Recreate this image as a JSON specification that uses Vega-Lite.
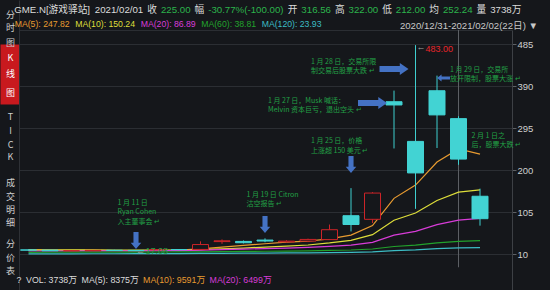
{
  "$schema": "https://vega.github.io/schema/vega-lite/v6.json",
  "width": 493,
  "height": 290,
  "autosize": "none",
  "padding": {"left": 19, "top": 0, "right": 38, "bottom": 0},
  "background": "#15171b",
  "title": {"text": "2020/12/31-2021/02/02(22日) ▼", "anchor": "end", "orient": "top", "frame": "group", "offset": -31, "dx": 26, "color": "#c8c8c8", "fontSize": 9.6, "fontWeight": "normal", "font": "Liberation Sans, Noto Sans CJK SC"},
  "config": {"view": {"stroke": null}, "font": "Liberation Sans, Noto Sans CJK SC"},
  "datasets": {
    "candles": [
      {"date":"2020-12-31","open":19.25,"high":19.80,"low":18.80,"close":18.84,"ma5":19.87,"ma10":18.79,"ma20":16.78,"ma60":13.90,"ma120":10.20},
      {"date":"2021-01-04","open":19.00,"high":19.10,"low":17.15,"close":17.25,"ma5":19.29,"ma10":18.96,"ma20":16.83,"ma60":14.02,"ma120":10.31},
      {"date":"2021-01-05","open":17.35,"high":18.08,"low":17.23,"close":17.37,"ma5":18.57,"ma10":19.14,"ma20":16.86,"ma60":14.13,"ma120":10.41},
      {"date":"2021-01-06","open":17.34,"high":18.98,"low":17.33,"close":18.36,"ma5":18.24,"ma10":19.28,"ma20":16.96,"ma60":14.26,"ma120":10.53},
      {"date":"2021-01-07","open":18.47,"high":19.45,"low":18.02,"close":18.08,"ma5":17.98,"ma10":19.09,"ma20":17.02,"ma60":14.39,"ma120":10.64},
      {"date":"2021-01-08","open":18.18,"high":18.30,"low":17.08,"close":17.69,"ma5":17.75,"ma10":18.81,"ma20":17.22,"ma60":14.46,"ma120":10.75},
      {"date":"2021-01-11","open":19.41,"high":20.65,"low":19.01,"close":19.94,"ma5":18.29,"ma10":18.79,"ma20":17.51,"ma60":14.57,"ma120":10.88},
      {"date":"2021-01-12","open":19.96,"high":20.40,"low":19.32,"close":19.95,"ma5":18.80,"ma10":18.69,"ma20":17.84,"ma60":14.68,"ma120":11.01},
      {"date":"2021-01-13","open":20.42,"high":38.65,"low":20.03,"close":31.40,"ma5":21.41,"ma10":19.83,"ma20":18.77,"ma60":14.97,"ma120":11.23},
      {"date":"2021-01-14","open":38.09,"high":43.06,"low":33.05,"close":39.91,"ma5":25.78,"ma10":21.88,"ma20":20.08,"ma60":15.40,"ma120":11.53},
      {"date":"2021-01-15","open":38.49,"high":40.75,"low":34.01,"close":35.50,"ma5":29.34,"ma10":23.55,"ma20":21.17,"ma60":15.77,"ma120":11.79},
      {"date":"2021-01-19","open":41.55,"high":45.52,"low":36.64,"close":39.36,"ma5":33.22,"ma10":25.76,"ma20":22.36,"ma60":16.20,"ma120":12.07},
      {"date":"2021-01-20","open":37.37,"high":41.19,"low":36.06,"close":39.12,"ma5":37.06,"ma10":27.93,"ma20":23.53,"ma60":16.64,"ma120":12.36},
      {"date":"2021-01-21","open":39.23,"high":44.75,"low":37.00,"close":43.03,"ma5":39.38,"ma10":30.40,"ma20":24.84,"ma60":17.14,"ma120":12.69},
      {"date":"2021-01-22","open":42.59,"high":76.76,"low":42.32,"close":65.01,"ma5":44.40,"ma10":35.09,"ma20":27.09,"ma60":18.02,"ma120":13.19},
      {"date":"2021-01-25","open":96.73,"high":159.18,"low":61.13,"close":76.79,"ma5":52.66,"ma10":41.00,"ma20":29.91,"ma60":19.10,"ma120":13.79},
      {"date":"2021-01-26","open":88.56,"high":150.00,"low":80.20,"close":147.98,"ma5":74.39,"ma10":53.81,"ma20":36.30,"ma60":21.37,"ma120":14.99},
      {"date":"2021-01-27","open":354.83,"high":380.00,"low":249.00,"close":347.51,"ma5":136.06,"ma10":86.56,"ma20":52.62,"ma60":26.97,"ma120":17.85},
      {"date":"2021-01-28","open":265.00,"high":483.00,"low":112.25,"close":193.60,"ma5":166.18,"ma10":102.78,"ma20":61.30,"ma60":30.01,"ma120":19.42},
      {"date":"2021-01-29","open":379.71,"high":413.98,"low":250.00,"close":325.00,"ma5":218.18,"ma10":131.29,"ma20":76.58,"ma60":35.24,"ma120":22.10},
      {"date":"2021-02-01","open":316.56,"high":322.00,"low":212.00,"close":225.00,"ma5":247.82,"ma10":150.24,"ma20":86.89,"ma60":38.81,"ma120":23.93},
      {"date":"2021-02-02","open":140.76,"high":158.00,"low":74.22,"close":90.00,"ma5":236.22,"ma10":155.30,"ma20":90.53,"ma60":40.13,"ma120":24.64}
    ],
    "notesA": [
      {"date":"2021-01-07","level":134.6,"note":"1   月   11   日\nRyan   Cohen\n入主董事会 ↵"},
      {"date":"2021-01-15","level":152.7,"note":"1 月 19 日 Citron\n沽空报告 ↵"},
      {"date":"2021-01-21","level":273.9,"note":"1 月 25 日，价格\n上涨超 150 美元 ↵"},
      {"date":"2021-01-19","level":365.6,"note":"1 月 27 日，Musk 喊话：\nMelvin 资本巨亏，退出空头 ↵"},
      {"date":"2021-01-21","level":453.9,"note":"1 月 28 日，交易所限\n制交易后股票大跌 ↵"}
    ],
    "notesB": [
      {"date":"2021-01-29","level":435.8,"note":"1 月 29 日，交易所\n放开限制，股票大涨 ↵"},
      {"date":"2021-02-01","level":286.3,"note":"2 月 1 日之\n后，股票大跌 ↵"}
    ],
    "arrowsDown": [
      {"date":"2021-01-08","level":21.4},
      {"date":"2021-01-19","level":57.6},
      {"date":"2021-01-25","level":193.5}
    ],
    "arrowsRight": [
      {"date":"2021-01-26","level":352},
      {"date":"2021-01-27","level":429}
    ],
    "arrowsLeft": [
      {"date":"2021-01-29","level":408.6}
    ],
    "info": [
      {"item":"GME.N[游戏驿站]"},{"item":"2021/02/01"},{"item":"收"},{"item":"225.00"},{"item":"幅"},{"item":"-30.77%(-100.00)"},{"item":"开"},{"item":"316.56"},{"item":"高"},{"item":"322.00"},{"item":"低"},{"item":"212.00"},{"item":"均"},{"item":"252.24"},{"item":"量"},{"item":"3738万"}
    ],
    "vol": [
      {"item":"?"},{"item":"VOL: 3738万"},{"item":"MA(5): 8375万"},{"item":"MA(10): 9591万"},{"item":"MA(20): 6499万"}
    ]
  },
  "layer": [
    {
      "data": {"name": "candles"},
      "transform": [{"filter": {"field": "date", "equal": "2021-02-01"}}],
      "mark": {"type": "rule", "color": "#5c5f64", "strokeWidth": 1},
      "encoding": {
        "x": {"field": "date", "type": "ordinal", "axis": null, "scale": {"type": "point", "padding": 0.965, "align": 0.229, "round": false}},
        "y": {"datum": 517.3, "type": "quantitative", "scale": {"domain": [-71.5, 585.2], "nice": false, "zero": false}, "axis": null},
        "y2": {"datum": -20}
      }
    },
    {
      "data": {"name": "candles"},
      "transform": [{"fold": ["ma5", "ma10", "ma20", "ma60", "ma120"], "as": ["ma", "value"]}],
      "mark": {"type": "line", "strokeWidth": 1.2},
      "encoding": {
        "x": {"field": "date", "type": "ordinal", "axis": null, "scale": {"type": "point", "padding": 0.965, "align": 0.229, "round": false}},
        "y": {"field": "value", "type": "quantitative", "scale": {"domain": [-71.5, 585.2], "nice": false, "zero": false},
          "axis": {"orient": "left", "title": null, "domain": true, "domainColor": "#2e3136", "grid": false,
            "values": [553, 522, 490, 456, 419, 417, 376, 321, 290, 259, 230, 173, 141, 111, 81, 33, 2, -27],
            "labelExpr": "datum.value==553?'分':datum.value==522?'时':datum.value==490?'图':datum.value==456?'K':datum.value==419?'线':datum.value==376?'图':datum.value==321?'T':datum.value==290?'I':datum.value==259?'C':datum.value==230?'K':datum.value==173?'成':datum.value==141?'交':datum.value==111?'明':datum.value==81?'细':datum.value==33?'分':datum.value==2?'价':datum.value==-27?'表':''",
            "labelAlign": "center", "labelBaseline": "middle", "labelPadding": -10, "labelFontSize": 9, "labelFont": "Noto Sans CJK SC",
            "labelColor": {"condition": {"test": "datum.value >= 370 && datum.value <= 460", "value": "#ffffff"}, "value": "#cfcfcf"},
            "labelOverlap": false, "labelBound": false, "labelFlush": false,
            "tickSize": 19, "tickCap": "butt",
            "tickWidth": {"condition": {"test": "datum.value == 417", "value": 60}, "value": 0},
            "tickColor": {"condition": {"test": "datum.value == 417", "value": "#c8191e"}, "value": "transparent"}
          }
        },
        "color": {"field": "ma", "type": "nominal",
          "scale": {"domain": ["ma5", "ma10", "ma20", "ma60", "ma120"], "range": ["#e89b30", "#dede3a", "#d83cd8", "#22a22c", "#3cbcc4"]},
          "legend": {"orient": "none", "legendX": 0, "legendY": 19.6, "direction": "horizontal", "title": null,
            "symbolSize": 0.01, "symbolOpacity": 0, "symbolStrokeWidth": 0.01, "labelOffset": -8.7, "symbolOffset": -4.35, "columnPadding": 4.5, "padding": 0,
            "labelFontSize": 8.7, "labelFont": "Liberation Sans",
            "labelColor": {"expr": "scale('color', datum.value)"},
            "labelExpr": "datum.value == 'ma5' ? 'MA(5): 247.82' : datum.value == 'ma10' ? 'MA(10): 150.24' : datum.value == 'ma20' ? 'MA(20): 86.89' : datum.value == 'ma60' ? 'MA(60): 38.81' : 'MA(120): 23.93'"
          }
        }
      }
    },
    {
      "data": {"name": "candles"},
      "mark": {"type": "rule", "strokeWidth": 1},
      "encoding": {
        "x": {"field": "date", "type": "ordinal", "axis": null, "scale": {"type": "point", "padding": 0.965, "align": 0.229, "round": false}},
        "y": {"field": "low", "type": "quantitative", "scale": {"domain": [-71.5, 585.2], "nice": false, "zero": false},
          "axis": {"orient": "right", "title": null, "values": [10, 105, 200, 295, 390, 485, 517.3], "grid": true, "gridColor": "#2b2e33", "gridWidth": 1,
            "domainColor": "#3d4045", "domainDash": [260, 100],
            "tickColor": {"condition": {"test": "datum.value > 500", "value": "transparent"}, "value": "#5e6166"}, "tickSize": 4,
            "labelExpr": "datum.value > 500 ? '' : datum.label",
            "labelColor": "#cfcfcf", "labelFontSize": 9.5,
            "labelFont": "Liberation Sans", "labelPadding": 1, "labelBaseline": "middle", "labelFlush": false, "labelOverlap": false}
        },
        "y2": {"field": "high"},
        "color": {"condition": {"test": "datum.close >= datum.open", "value": "#cc2428"}, "value": "#3fcfcf"}
      }
    },
    {
      "data": {"name": "candles"},
      "mark": {"type": "bar", "size": 16, "strokeWidth": 1},
      "encoding": {
        "x": {"field": "date", "type": "ordinal", "axis": null, "scale": {"type": "point", "padding": 0.965, "align": 0.229, "round": false}},
        "y": {"field": "open", "type": "quantitative", "scale": {"domain": [-71.5, 585.2], "nice": false, "zero": false}, "axis": null},
        "y2": {"field": "close"},
        "fill": {"condition": {"test": "datum.close >= datum.open", "value": "#15171b"}, "value": "#42d3d3"},
        "stroke": {"condition": {"test": "datum.close >= datum.open", "value": "#cc2428"}, "value": "#42d3d3"}
      }
    },
    {
      "data": {"name": "arrowsDown"},
      "mark": {"type": "point", "shape": "M0,0L-0.62,-0.72L-0.3,-0.72L-0.3,-2L0.3,-2L0.3,-0.72L0.62,-0.72Z", "size": 289, "filled": true, "color": "#4472c4", "opacity": 1, "strokeWidth": 0},
      "encoding": {
        "x": {"field": "date", "type": "ordinal", "axis": null, "scale": {"type": "point", "padding": 0.965, "align": 0.229, "round": false}},
        "y": {"field": "level", "type": "quantitative", "scale": {"domain": [-71.5, 585.2], "nice": false, "zero": false}, "axis": null}
      }
    },
    {
      "data": {"name": "arrowsRight"},
      "mark": {"type": "point", "shape": "M1,0L0.4,-0.42L0.4,-0.2L-1,-0.2L-1,0.2L0.4,0.2L0.4,0.42Z", "size": 841, "filled": true, "color": "#4472c4", "opacity": 1, "strokeWidth": 0},
      "encoding": {
        "x": {"field": "date", "type": "ordinal", "axis": null, "scale": {"type": "point", "padding": 0.965, "align": 0.229, "round": false}},
        "y": {"field": "level", "type": "quantitative", "scale": {"domain": [-71.5, 585.2], "nice": false, "zero": false}, "axis": null}
      }
    },
    {
      "data": {"name": "arrowsLeft"},
      "mark": {"type": "point", "shape": "M0,0L0.7,-0.55L0.7,-0.22L2,-0.22L2,0.22L0.7,0.22L0.7,0.55Z", "size": 169, "filled": true, "color": "#4472c4", "opacity": 1, "strokeWidth": 0},
      "encoding": {
        "x": {"field": "date", "type": "ordinal", "axis": null, "scale": {"type": "point", "padding": 0.965, "align": 0.229, "round": false}},
        "y": {"field": "level", "type": "quantitative", "scale": {"domain": [-71.5, 585.2], "nice": false, "zero": false}, "axis": null}
      }
    },
    {
      "data": {"name": "notesA"},
      "mark": {"type": "text", "align": "left", "baseline": "top", "dx": 3, "fontSize": 7, "lineBreak": "\n", "lineHeight": 9.5, "color": "#22a046", "font": "Noto Sans CJK SC"},
      "encoding": {
        "x": {"field": "date", "type": "ordinal", "axis": null, "scale": {"type": "point", "padding": 0.965, "align": 0.229, "round": false}},
        "y": {"field": "level", "type": "quantitative", "scale": {"domain": [-71.5, 585.2], "nice": false, "zero": false}, "axis": null},
        "text": {"field": "note"}
      }
    },
    {
      "data": {"name": "notesB"},
      "mark": {"type": "text", "align": "left", "baseline": "top", "dx": 13, "fontSize": 7, "lineBreak": "\n", "lineHeight": 9.5, "color": "#22a046", "font": "Noto Sans CJK SC"},
      "encoding": {
        "x": {"field": "date", "type": "ordinal", "axis": null, "scale": {"type": "point", "padding": 0.965, "align": 0.229, "round": false}},
        "y": {"field": "level", "type": "quantitative", "scale": {"domain": [-71.5, 585.2], "nice": false, "zero": false}, "axis": null},
        "text": {"field": "note"}
      }
    },
    {
      "data": {"name": "candles"},
      "transform": [{"filter": {"field": "date", "equal": "2021-01-28"}}],
      "mark": {"type": "text", "align": "left", "baseline": "middle", "dx": 1, "dy": 2, "fontSize": 9, "color": "#a0a0a0", "text": "←"},
      "encoding": {
        "x": {"field": "date", "type": "ordinal", "axis": null, "scale": {"type": "point", "padding": 0.965, "align": 0.229, "round": false}},
        "y": {"field": "high", "type": "quantitative", "scale": {"domain": [-71.5, 585.2], "nice": false, "zero": false}, "axis": null}
      }
    },
    {
      "data": {"name": "candles"},
      "transform": [{"filter": {"field": "date", "equal": "2021-01-28"}}],
      "mark": {"type": "text", "align": "left", "baseline": "middle", "dx": 10, "dy": 4, "fontSize": 9, "color": "#e8252a", "font": "Liberation Sans"},
      "encoding": {
        "x": {"field": "date", "type": "ordinal", "axis": null, "scale": {"type": "point", "padding": 0.965, "align": 0.229, "round": false}},
        "y": {"field": "high", "type": "quantitative", "scale": {"domain": [-71.5, 585.2], "nice": false, "zero": false}, "axis": null},
        "text": {"field": "high", "type": "quantitative", "format": ".2f"}
      }
    },
    {
      "data": {"name": "candles"},
      "transform": [{"filter": {"field": "date", "equal": "2021-01-08"}}],
      "mark": {"type": "text", "align": "left", "baseline": "middle", "dx": 0, "dy": 0, "fontSize": 9, "color": "#a0a0a0", "text": "←"},
      "encoding": {
        "x": {"field": "date", "type": "ordinal", "axis": null, "scale": {"type": "point", "padding": 0.965, "align": 0.229, "round": false}},
        "y": {"field": "low", "type": "quantitative", "scale": {"domain": [-71.5, 585.2], "nice": false, "zero": false}, "axis": null}
      }
    },
    {
      "data": {"name": "candles"},
      "transform": [{"filter": {"field": "date", "equal": "2021-01-08"}}],
      "mark": {"type": "text", "align": "left", "baseline": "middle", "dx": 9.5, "dy": 0, "fontSize": 9, "color": "#22a046", "font": "Liberation Sans"},
      "encoding": {
        "x": {"field": "date", "type": "ordinal", "axis": null, "scale": {"type": "point", "padding": 0.965, "align": 0.229, "round": false}},
        "y": {"field": "low", "type": "quantitative", "scale": {"domain": [-71.5, 585.2], "nice": false, "zero": false}, "axis": null},
        "text": {"field": "low", "type": "quantitative", "format": ".2f"}
      }
    },
    {
      "data": {"name": "info"},
      "mark": {"type": "point", "opacity": 0},
      "encoding": {
        "shape": {"field": "item", "type": "nominal", "sort": null,
          "legend": {"orient": "none", "legendX": 0, "legendY": 5.15, "direction": "horizontal", "title": null, "symbolLimit": 100,
            "symbolSize": 0.01, "symbolOpacity": 0, "symbolStrokeWidth": 0.01, "labelOffset": -9.7, "symbolOffset": -4.85, "columnPadding": 3.6, "padding": 0,
            "labelFontSize": 9.7, "labelFont": "Liberation Sans, Noto Sans CJK SC", "labelLimit": 300,
            "labelColor": {"expr": "test(regexp('^[-0-9][-0-9.%()]*$'), datum.value) ? '#2cb34c' : '#dcdcdc'"}
          }
        }
      }
    },
    {
      "data": {"name": "vol"},
      "mark": {"type": "point", "opacity": 0},
      "encoding": {
        "strokeDash": {"field": "item", "type": "nominal", "sort": null,
          "legend": {"orient": "none", "legendX": 2, "legendY": 275.6, "direction": "horizontal", "title": null,
            "symbolSize": 0.01, "symbolOpacity": 0, "symbolStrokeWidth": 0.01, "labelOffset": -8.8, "symbolOffset": -4.4, "columnPadding": 3.5, "padding": 0,
            "labelFontSize": 8.8, "labelFont": "Liberation Sans, Noto Sans CJK SC", "labelLimit": 300,
            "labelColor": {"expr": "datum.value == 'MA(10): 9591万' ? '#e89b30' : datum.value == 'MA(20): 6499万' ? '#d83cd8' : '#dcdcdc'"}
          }
        }
      }
    }
  ],
  "resolve": {"axis": {"y": "independent"}}
}
